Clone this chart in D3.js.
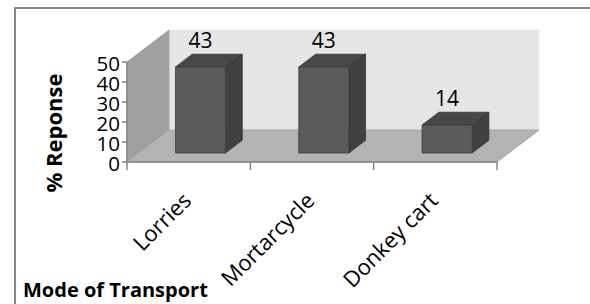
<!DOCTYPE html>
<html>
<head>
<meta charset="utf-8">
<script src="https://cdn.jsdelivr.net/npm/d3@7"></script>
<style>
  html, body { margin: 0; padding: 0; background: #fff; }
  svg { display: block; }
  text { font-family: 'Open Sans', 'Noto Sans', sans-serif; fill: #000; }
</style>
</head>
<body>
<div id="chart"></div>
<script>
const categories = ['Lorries', 'Mortarcycle', 'Donkey cart']
const values = [43, 43, 14]
const yTicks = [0, 10, 20, 30, 40, 50]
const yTitle = '% Reponse'
const xTitle = 'Mode of Transport'

const width = 590
const height = 304

// plot box (front plane) and 3D depth offset
const plotLeft = 127, plotRight = 497, plotTop = 62, plotBottom = 162
const depthX = 42, depthY = -32
const barFront = 0.28, barBack = 0.68
const barWidth = 50

const svg = d3.select('#chart')
  .append('svg')
  .attr('width', width)
  .attr('height', height)

const x = d3.scaleBand().domain(categories).range([plotLeft, plotRight]).padding(0)
const y = d3.scaleLinear().domain([0, 50]).range([plotBottom, plotTop])

// project a point of the front plane to a given depth fraction
const proj = (px, py, d) => [px + d * depthX, py + d * depthY]
const poly = pts => pts.map(p => p.join(',')).join(' ')

// Chart frame
svg.append('rect')
  .attr('x', 15)
  .attr('y', 8)
  .attr('width', 600)
  .attr('height', 320)
  .attr('fill', 'none')
  .attr('stroke', '#868686')
  .attr('stroke-width', 2)

// Back wall
svg.append('polygon')
  .attr('points', poly([proj(plotLeft, plotTop, 1), proj(plotRight, plotTop, 1), proj(plotRight, plotBottom, 1), proj(plotLeft, plotBottom, 1)]))
  .attr('fill', '#e6e6e6')
  .attr('stroke', '#ececec')

// Side wall
svg.append('polygon')
  .attr('points', poly([[plotLeft, plotBottom], [plotLeft, plotTop], proj(plotLeft, plotTop, 1), proj(plotLeft, plotBottom, 1)]))
  .attr('fill', '#a0a0a0')
  .attr('stroke', '#a8a8a8')

// Floor
svg.append('polygon')
  .attr('points', poly([[plotLeft, plotBottom], proj(plotLeft, plotBottom, 1), proj(plotRight, plotBottom, 1), [plotRight, plotBottom]]))
  .attr('fill', '#b3b3b3')
  .attr('stroke', '#a6a6a6')

// Y axis
svg.append('line')
  .attr('x1', plotLeft).attr('x2', plotLeft)
  .attr('y1', y(50)).attr('y2', y(0))
  .attr('stroke', '#868686')
  .attr('stroke-width', 1.5)

yTicks.forEach(t => {
  svg.append('line')
    .attr('x1', plotLeft - 5).attr('x2', plotLeft)
    .attr('y1', y(t)).attr('y2', y(t))
    .attr('stroke', '#868686')
    .attr('stroke-width', 1.5)

  svg.append('text')
    .attr('x', 120)
    .attr('y', y(t) + 9)
    .attr('text-anchor', 'end')
    .attr('font-size', '20.5px')
    .text(t)
})

// X axis
svg.append('line')
  .attr('x1', plotLeft).attr('x2', plotRight)
  .attr('y1', plotBottom).attr('y2', plotBottom)
  .attr('stroke', '#868686')
  .attr('stroke-width', 1.5)

const xTicks = categories.map(c => x(c)).concat([plotRight])
xTicks.forEach(t => {
  svg.append('line')
    .attr('x1', t).attr('x2', t)
    .attr('y1', plotBottom).attr('y2', plotBottom + 8)
    .attr('stroke', '#868686')
    .attr('stroke-width', 1.5)
})

// Bars
const bars = svg.append('g')
categories.forEach((c, i) => {
  const cx = x(c) + x.bandwidth() / 2
  const x0 = cx - barWidth / 2
  const x1 = cx + barWidth / 2
  const fTL = proj(x0, y(values[i]), barFront)
  const fTR = proj(x1, y(values[i]), barFront)
  const fBR = proj(x1, y(0), barFront)
  const fBL = proj(x0, y(0), barFront)
  const bTL = proj(x0, y(values[i]), barBack)
  const bTR = proj(x1, y(values[i]), barBack)
  const bBR = proj(x1, y(0), barBack)

  bars.append('polygon')
    .attr('points', poly([fTR, bTR, bBR, fBR]))
    .attr('fill', '#404040')
    .attr('stroke', '#353535')
    .attr('stroke-width', 0.8)

  bars.append('polygon')
    .attr('points', poly([fTL, bTL, bTR, fTR]))
    .attr('fill', '#474747')
    .attr('stroke', '#353535')
    .attr('stroke-width', 0.8)

  bars.append('polygon')
    .attr('points', poly([fTL, fTR, fBR, fBL]))
    .attr('fill', '#5a5a5a')
    .attr('stroke', '#3c3c3c')
    .attr('stroke-width', 0.8)

  // Value label
  svg.append('text')
    .attr('x', (fTL[0] + fTR[0]) / 2)
    .attr('y', bTL[1] - 6)
    .attr('text-anchor', 'middle')
    .attr('font-size', '21px')
    .text(values[i])

  // Category label
  svg.append('text')
    .attr('transform', `translate(${cx + 4}, 202) rotate(-45)`)
    .attr('text-anchor', 'end')
    .attr('font-size', '22px')
    .text(c)
})

// Y axis title
svg.append('text')
  .attr('transform', `translate(62, 133) rotate(-90)`)
  .attr('text-anchor', 'middle')
  .attr('font-size', '22px')
  .attr('font-weight', 'bold')
  .text(yTitle)

// X axis title
svg.append('text')
  .attr('x', 23)
  .attr('y', 297)
  .attr('font-size', '20px')
  .attr('font-weight', 'bold')
  .text(xTitle)
</script>
</body>
</html>
